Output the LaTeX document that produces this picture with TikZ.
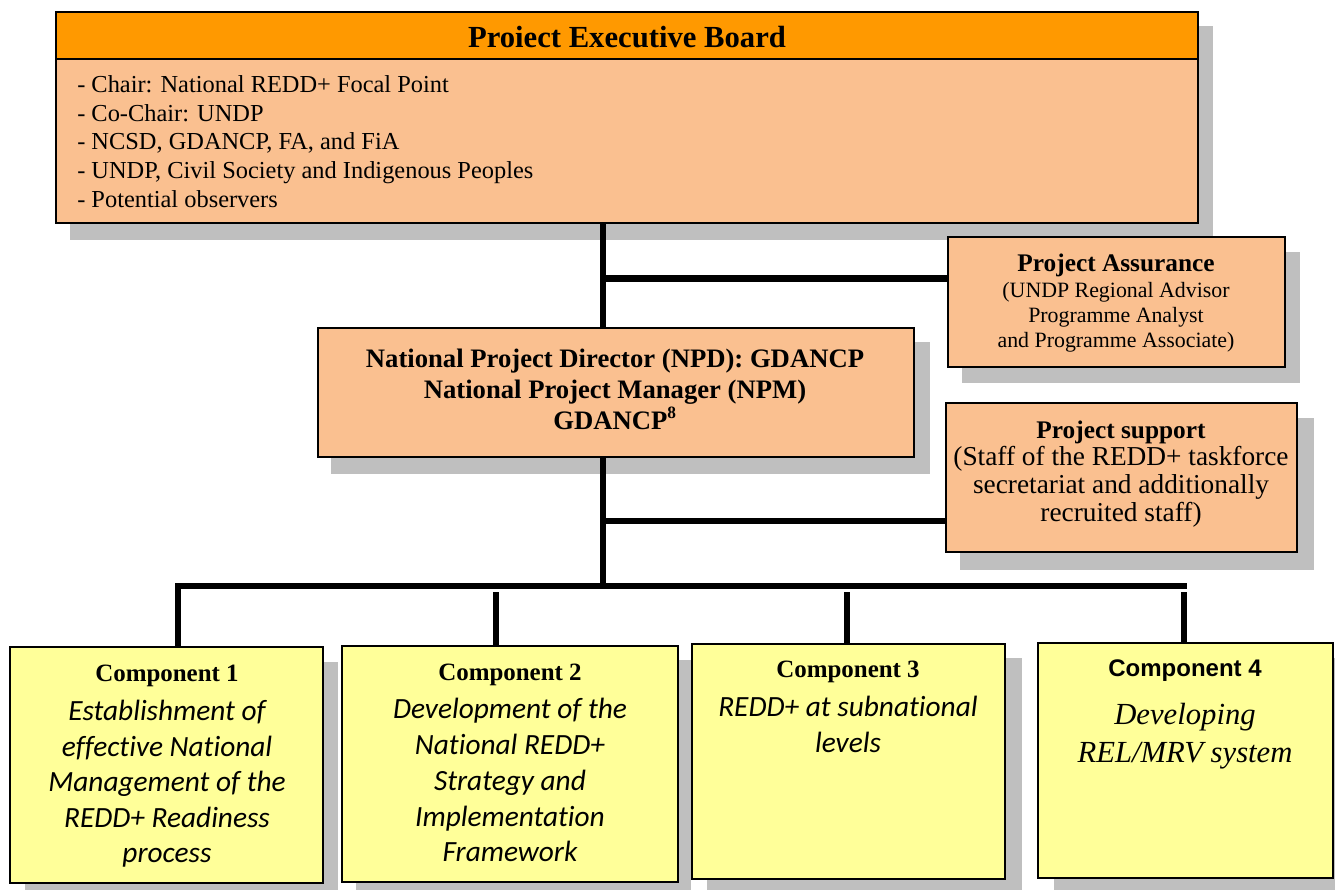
\documentclass[tikz,border=0pt]{standalone}
\usepackage{fontspec}
\setmainfont{Liberation Serif}
\newfontfamily\calib[Ligatures=NoCommon]{Carlito}
\newfontfamily\arialf{Liberation Sans}
\usetikzlibrary{fit}
\definecolor{peach}{HTML}{FAC090}
\definecolor{hdrorange}{HTML}{FF9900}
\definecolor{paleyellow}{HTML}{FFFF99}
\definecolor{shadowgray}{HTML}{BFBFBF}
\tikzset{
  boxshape/.style={draw=black, line width=1pt, rectangle, inner sep=0pt},
  peachbox/.style={boxshape, fill=peach},
  yellowbox/.style={boxshape, fill=paleyellow},
  conn/.style={line width=4.6pt, line cap=butt, line join=miter},
  shade/.style={fill=shadowgray},
  bodytxt/.style={anchor=base west, inner sep=0pt, font=\fontsize{18.3}{21.5}\selectfont},
  ctxt/.style={anchor=base, inner sep=0pt},
  bhead/.style={ctxt, font=\bfseries\fontsize{18.7}{22}\selectfont},
  itl/.style={ctxt, font=\calib\itshape\fontsize{22}{26}\selectfont},
}
\begin{document}
\begin{tikzpicture}[x=0.75pt, y=-0.75pt]
\useasboundingbox (0,0) rectangle (1335,890);

% ---------- shadows ----------
\fill[shade] (70,26) rectangle (1213,240);
\fill[shade] (962,252) rectangle (1300,383);
\fill[shade] (331,342) rectangle (930,474);
\fill[shade] (960,418) rectangle (1314,570);
\fill[shade] (25,662) rectangle (338,890);
\fill[shade] (356,660) rectangle (691,890);
\fill[shade] (707,658) rectangle (1022,890);
\fill[shade] (1054,658) rectangle (1335,890);

% ---------- boxes ----------
\node[peachbox, fit={(56,12) (1198,223)}] (board) {};
\node[boxshape, fill=hdrorange, fit={(56,12) (1198,59)}] (hdr) {};
\node[peachbox, fit={(948,237) (1285,367)}] (pa) {};
\node[peachbox, fit={(318,328) (914,457)}] (npd) {};
\node[peachbox, fit={(946,403) (1297,552)}] (ps) {};
\node[yellowbox, fit={(10,647) (323,883)}] (c1) {};
\node[yellowbox, fit={(342,646) (678,882)}] (c2) {};
\node[yellowbox, fit={(692,644) (1005,879)}] (c3) {};
\node[yellowbox, fit={(1038,643) (1333,878)}] (c4) {};

% ---------- connectors ----------
\coordinate (tx) at (603,0);
\coordinate (pay) at (0,278.5);
\coordinate (psy) at (0,521);
\coordinate (busy) at (0,586);
\coordinate (dropy) at (0,592);
\coordinate (d1) at (178,0);
\coordinate (d2) at (496,0);
\coordinate (d3) at (847,0);
\coordinate (d4) at (1184,0);
\coordinate (busend) at (1187,0);

\draw[conn] (board.south -| tx) -- (npd.north -| tx);
\draw[conn] (pay -| tx) -- (pay -| pa.west);
\draw[conn] (npd.south -| tx) -- (busy -| tx);
\draw[conn] (psy -| tx) -- (psy -| ps.west);
\draw[conn] (c1.north -| d1) -- (busy -| d1) -- (busy -| busend);
\draw[conn] (dropy -| d2) -- (c2.north -| d2);
\draw[conn] (dropy -| d3) -- (c3.north -| d3);
\draw[conn] (dropy -| d4) -- (c4.north -| d4);

% ---------- texts ----------
\node[ctxt, font=\bfseries\fontsize{23}{27}\selectfont] (ttl) at (627,47) {Proiect Executive Board};
\node[bodytxt] (b1) at (77,92) {- Chair: National REDD+ Focal Point};
\node[bodytxt] (b2) at (77,121) {- Co-Chair: UNDP};
\node[bodytxt] (b3) at (77,149) {- NCSD, GDANCP, FA, and FiA};
\node[bodytxt] (b4) at (77,178) {- UNDP, Civil Society and Indigenous Peoples};
\node[bodytxt] (b5) at (77,207) {- Potential observers};

\node[ctxt, font=\bfseries\fontsize{19}{22}\selectfont] (pa1) at (1116,271) {Project Assurance};
\node[ctxt, font=\fontsize{16.4}{19}\selectfont] (pa2) at (1116,297) {(UNDP Regional Advisor};
\node[ctxt, font=\fontsize{16.4}{19}\selectfont] (pa3) at (1116,322) {Programme Analyst};
\node[ctxt, font=\fontsize{16.4}{19}\selectfont] (pa4) at (1116,347) {and Programme Associate)};

\node[ctxt, font=\bfseries\fontsize{20}{24}\selectfont] (n1) at (615,367) {National Project Director (NPD): GDANCP};
\node[ctxt, font=\bfseries\fontsize{20}{24}\selectfont] (n2) at (615,398) {National Project Manager (NPM)};
\node[ctxt, font=\bfseries\fontsize{20}{24}\selectfont] (n3) at (615,429) {GDANCP\textsuperscript{\fontsize{13}{15}\selectfont 8}};

\node[ctxt, font=\bfseries\fontsize{19}{22}\selectfont] (ps1) at (1121,438) {Project support};
\node[ctxt, font=\fontsize{20.5}{24}\selectfont] (ps2) at (1121,465) {(Staff of the REDD+ taskforce};
\node[ctxt, font=\fontsize{20.5}{24}\selectfont] (ps3) at (1121,493) {secretariat and additionally};
\node[ctxt, font=\fontsize{20.5}{24}\selectfont] (ps4) at (1121,521) {recruited staff)};

\node[bhead] (h1) at (167,681) {Component 1};
\node[itl] (c1a) at (167,720) {Establishment of};
\node[itl] (c1b) at (167,756) {effective National};
\node[itl] (c1c) at (167,791) {Management of the};
\node[itl] (c1d) at (167,827) {REDD+ Readiness};
\node[itl] (c1e) at (167,862) {process};

\node[bhead] (h2) at (510,680) {Component 2};
\node[itl] (c2a) at (510,718) {Development of the};
\node[itl] (c2b) at (510,754) {National REDD+};
\node[itl] (c2c) at (510,790) {Strategy and};
\node[itl] (c2d) at (510,826) {Implementation};
\node[itl] (c2e) at (510,861) {Framework};

\node[bhead] (h3) at (848,677) {Component 3};
\node[itl] (c3a) at (848,716) {REDD+ at subnational};
\node[itl] (c3b) at (848,752) {levels};

\node[ctxt, font=\arialf\bfseries\fontsize{18}{22}\selectfont] (h4) at (1185,676) {Component 4};
\node[ctxt, font=\itshape\fontsize{23}{28}\selectfont] (c4a) at (1185,724) {Developing};
\node[ctxt, font=\itshape\fontsize{23}{28}\selectfont] (c4b) at (1185,762) {REL/MRV system};
\end{tikzpicture}
\end{document}
